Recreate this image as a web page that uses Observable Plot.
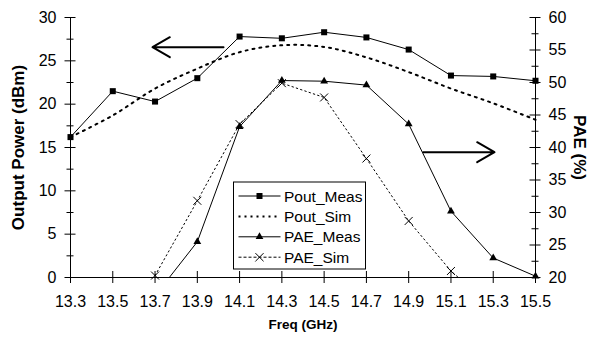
<!DOCTYPE html>
<html>
<head>
<meta charset="utf-8">
<script src="https://cdn.jsdelivr.net/npm/d3@7"></script>
<script src="https://cdn.jsdelivr.net/npm/@observablehq/plot@0.6"></script>
<style>
  html, body { margin: 0; padding: 0; background: #fff; }
  #chart svg { font-family: "Liberation Sans", Arial, sans-serif; }
</style>
</head>
<body>
<div id="chart"></div>
<script>
// ---- data ----
const freq = [13.3, 13.5, 13.7, 13.9, 14.1, 14.3, 14.5, 14.7, 14.9, 15.1, 15.3, 15.5];
const poutMeas = [16.2, 21.5, 20.3, 23.0, 27.8, 27.6, 28.3, 27.7, 26.3, 23.3, 23.2, 22.7];
const poutSim  = [16.2, 18.7, 21.8, 24.1, 26.0, 26.8, 26.6, 25.4, 23.7, 21.8, 20.1, 18.2];
const paeMeas  = [null, null, 17.2, 25.5, 43.2, 50.3, 50.2, 49.6, 43.6, 30.2, 23.0, 20.2];
const paeSim   = [null, null, 20.3, 31.8, 43.6, 49.9, 47.7, 38.3, 28.7, 21.0, 15.3, null];
const leftTicks = [0, 5, 10, 15, 20, 25, 30];
const rightTicks = [20, 25, 30, 35, 40, 45, 50, 55, 60];
const seriesNames = ["Pout_Meas", "Pout_Sim", "PAE_Meas", "PAE_Sim"];
const xLabel = "Freq (GHz)";
const yLabel = "Output Power (dBm)";
const y2Label = "PAE (%)";

// PAE (right axis, 20..60) is mapped onto the left scale (0..30)
const paeToLeft = p => (p - 20) * 30 / 40;

const pout = freq.map((f, i) => ({f, meas: poutMeas[i], sim: poutSim[i]}));
const paeM = freq.map((f, i) => ({f, v: paeMeas[i]})).filter(d => d.v != null);
const paeS = freq.map((f, i) => ({f, v: paeSim[i]})).filter(d => d.v != null);
const inRange = d => d.v >= 20 && d.v <= 60;

const W = 589, H = 337;
const mL = 70, mR = 54, mT = 17, mB = 60;
const pw = W - mL - mR, ph = H - mT - mB;

const leftMinor = leftTicks.slice(0, -1).map(t => t + 2.5);
const rightMajorL = rightTicks.map(paeToLeft);
const rightMinorL = rightTicks.slice(0, -1).map(t => paeToLeft(t + 2.5));

const FS = 16;

const plot = Plot.plot({
  width: W, height: H,
  marginLeft: mL, marginRight: mR, marginTop: mT, marginBottom: mB,
  x: {domain: [13.3, 15.5], axis: null},
  y: {domain: [0, 30], axis: null},
  style: {fontFamily: '"Liberation Sans", Arial, sans-serif', color: "#000", background: "#fff"},
  marks: [
    // tick labels
    Plot.axisX(freq, {tickSize: 0, tickPadding: 18, fontSize: FS, tickFormat: d => d.toFixed(1)}),
    Plot.axisY(leftTicks, {anchor: "left", tickSize: 0, tickPadding: 14, fontSize: FS, label: null}),
    Plot.axisY(rightMajorL, {anchor: "right", tickSize: 0, tickPadding: 13, fontSize: FS, label: null,
      tickFormat: d => String(Math.round(20 + d * 40 / 30))}),
    // tick marks crossing the axes
    Plot.tickY(leftTicks, {y: d => d, insetLeft: -5.5, insetRight: pw - 5.5, stroke: "#000"}),
    Plot.tickY(leftMinor, {y: d => d, insetLeft: -3.5, insetRight: pw - 3.5, stroke: "#000"}),
    Plot.tickY(rightMajorL, {y: d => d, insetLeft: pw - 5.5, insetRight: -5.5, stroke: "#000"}),
    Plot.tickY(rightMinorL, {y: d => d, insetLeft: pw - 3.5, insetRight: -3.5, stroke: "#000"}),
    Plot.tickX(freq, {x: d => d, insetTop: ph - 6, insetBottom: -6, stroke: "#000"}),
    // axis lines
    Plot.ruleX([13.3, 15.5], {stroke: "#000"}),
    Plot.ruleY([0], {stroke: "#000"}),
    // series
    Plot.line(pout, {x: "f", y: "sim", stroke: "#000", strokeWidth: 2, strokeDasharray: "2,5", curve: "catmull-rom"}),
    Plot.line(paeS, {x: "f", y: d => paeToLeft(d.v), stroke: "#000", strokeWidth: 1, strokeDasharray: "1.5,3", clip: "frame"}),
    Plot.line(pout, {x: "f", y: "meas", stroke: "#000", strokeWidth: 1}),
    Plot.line(paeM, {x: "f", y: d => paeToLeft(d.v), stroke: "#000", strokeWidth: 1, clip: "frame"}),
    Plot.dot(pout, {x: "f", y: "meas", symbol: "square", r: 3.4, fill: "#000", stroke: "none"}),
    Plot.dot(paeM.filter(inRange), {x: "f", y: d => paeToLeft(d.v), symbol: "triangle", r: 2.9, fill: "#000", stroke: "none"}),
    Plot.dot(paeS.filter(inRange), {x: "f", y: d => paeToLeft(d.v), symbol: "times", r: 3.7, stroke: "#000", strokeWidth: 1}),
    // annotation arrows
    Plot.arrow([{x1: 14.024, x2: 13.688, y: 26.57}], {x1: "x1", x2: "x2", y1: "y", y2: "y", stroke: "#000", strokeWidth: 2, headLength: 15, headAngle: 60}),
    Plot.arrow([{x1: 14.969, x2: 15.306, y: 14.46}], {x1: "x1", x2: "x2", y1: "y", y2: "y", stroke: "#000", strokeWidth: 2, headLength: 15, headAngle: 60}),
    // axis titles
    Plot.text([yLabel], {text: d => d, frameAnchor: "left", textAnchor: "middle", dx: -52, rotate: -90, fontWeight: "bold", fontSize: 17}),
    Plot.text([y2Label], {text: d => d, frameAnchor: "right", textAnchor: "middle", dx: 44, rotate: 90, fontWeight: "bold", fontSize: 17}),
    Plot.text([xLabel], {text: d => d, frameAnchor: "bottom", dy: 51, fontWeight: "bold", fontSize: 13.5})
  ]
});

document.getElementById("chart").appendChild(plot);

// ---- legend (boxed, inside plot area) ----
const svg = d3.select(plot);
const lg = svg.append("g").attr("transform", "translate(233.5,182)").attr("text-anchor", "start");
lg.append("rect").attr("width", 132).attr("height", 87).attr("fill", "#fff").attr("stroke", "#000").attr("stroke-width", 1);
const styles = [
  {dash: null, sw: 1, sym: d3.symbolSquare, size: 36, fill: true},
  {dash: "2,4", sw: 2, sym: null},
  {dash: null, sw: 1, sym: d3.symbolTriangle, size: 26, fill: true},
  {dash: "3,2", sw: 1, sym: d3.symbolTimes, size: 45, fill: false}
];
seriesNames.forEach((name, i) => {
  const yy = 14 + i * 20.4;
  const s = styles[i];
  const ln = lg.append("line").attr("x1", 5).attr("x2", 47).attr("y1", yy).attr("y2", yy)
    .attr("stroke", "#000").attr("stroke-width", s.sw);
  if (s.dash) ln.attr("stroke-dasharray", s.dash);
  if (s.sym) {
    lg.append("path").attr("d", d3.symbol(s.sym, s.size)())
      .attr("transform", `translate(26,${yy})`)
      .attr("fill", s.fill ? "#000" : "none").attr("stroke", s.fill ? "none" : "#000").attr("stroke-width", 1);
  }
  lg.append("text").attr("x", 50.5).attr("y", yy).attr("dy", "0.36em").attr("text-anchor", "start")
    .attr("font-size", 15.5).attr("fill", "#000").text(name);
});
</script>
</body>
</html>
